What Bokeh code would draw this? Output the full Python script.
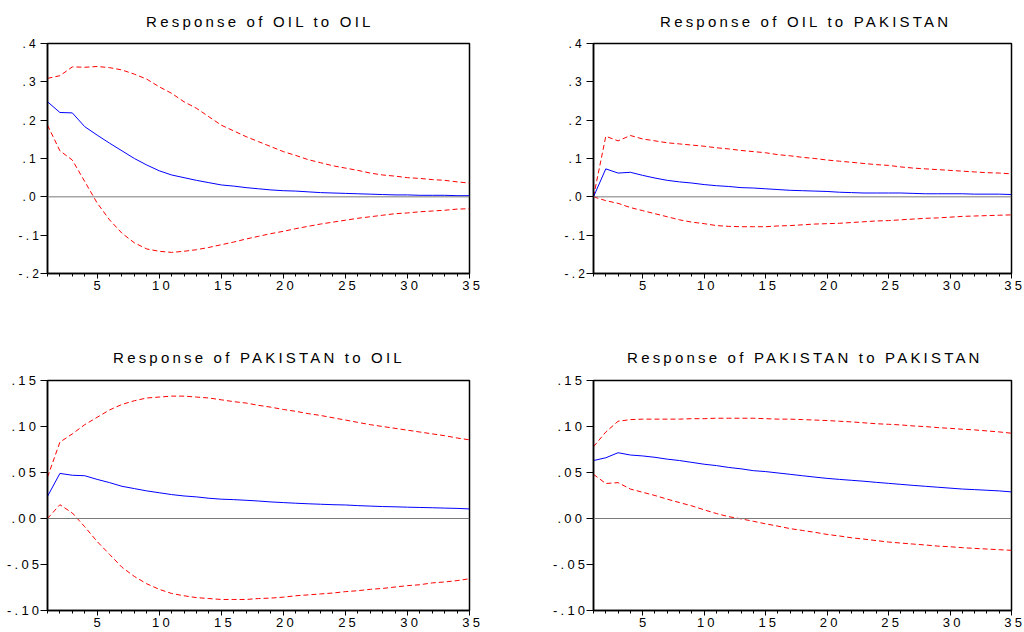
from bokeh.plotting import figure
from bokeh.models import (Range1d, FixedTicker, CustomJSTickFormatter, Span, ColumnDataSource,
                          InlineStyleSheet)
from bokeh.layouts import row, column
from bokeh.embed import file_html
from bokeh.resources import INLINE

periods = list(range(1, 36))

titles = ["Response of OIL to OIL", "Response of OIL to PAKISTAN",
          "Response of PAKISTAN to OIL", "Response of PAKISTAN to PAKISTAN"]

oil_oil_resp = [0.248, 0.220, 0.219, 0.183, 0.161, 0.140, 0.120, 0.100, 0.083, 0.068,
                0.057, 0.050, 0.043, 0.037, 0.031, 0.028, 0.024, 0.021, 0.018, 0.016,
                0.015, 0.013, 0.011, 0.010, 0.009, 0.008, 0.007, 0.006, 0.005, 0.005,
                0.004, 0.004, 0.004, 0.003, 0.003]
oil_oil_upper = [0.309, 0.316, 0.339, 0.338, 0.340, 0.337, 0.331, 0.320, 0.307, 0.287,
                 0.270, 0.248, 0.231, 0.209, 0.187, 0.172, 0.157, 0.144, 0.131, 0.118,
                 0.108, 0.097, 0.089, 0.081, 0.075, 0.069, 0.062, 0.057, 0.054, 0.050,
                 0.048, 0.045, 0.043, 0.039, 0.036]
oil_oil_lower = [0.187, 0.120, 0.096, 0.040, -0.016, -0.060, -0.095, -0.120, -0.136, -0.142,
                 -0.145, -0.142, -0.138, -0.132, -0.125, -0.118, -0.110, -0.103, -0.096, -0.090,
                 -0.083, -0.077, -0.071, -0.066, -0.061, -0.056, -0.052, -0.048, -0.044, -0.042,
                 -0.039, -0.037, -0.035, -0.032, -0.031]

oil_pak_resp = [0.0, 0.073, 0.062, 0.064, 0.056, 0.049, 0.043, 0.039, 0.036, 0.032,
                0.029, 0.027, 0.024, 0.023, 0.021, 0.019, 0.017, 0.016, 0.015, 0.014,
                0.012, 0.011, 0.010, 0.010, 0.010, 0.010, 0.009, 0.008, 0.008, 0.008,
                0.008, 0.007, 0.007, 0.007, 0.006]
oil_pak_upper = [0.0, 0.158, 0.146, 0.160, 0.151, 0.146, 0.141, 0.138, 0.135, 0.132,
                 0.128, 0.125, 0.121, 0.118, 0.115, 0.110, 0.107, 0.103, 0.100, 0.096,
                 0.093, 0.090, 0.087, 0.084, 0.082, 0.078, 0.075, 0.073, 0.071, 0.069,
                 0.067, 0.065, 0.063, 0.062, 0.060]
oil_pak_lower = [0.0, -0.010, -0.017, -0.028, -0.036, -0.044, -0.052, -0.060, -0.066, -0.070,
                 -0.075, -0.077, -0.078, -0.078, -0.078, -0.076, -0.075, -0.073, -0.071, -0.070,
                 -0.069, -0.067, -0.065, -0.063, -0.062, -0.060, -0.058, -0.056, -0.055, -0.053,
                 -0.051, -0.050, -0.049, -0.048, -0.047]

pak_oil_resp = [0.024, 0.049, 0.047, 0.0465, 0.0425, 0.039, 0.035, 0.0325, 0.030, 0.028,
                0.026, 0.0245, 0.0235, 0.022, 0.021, 0.0205, 0.0198, 0.019, 0.018, 0.0173,
                0.0166, 0.016, 0.0155, 0.015, 0.0147, 0.014, 0.0135, 0.013, 0.0127, 0.0123,
                0.012, 0.0117, 0.0113, 0.011, 0.0104]
pak_oil_upper = [0.045, 0.083, 0.092, 0.102, 0.110, 0.118, 0.124, 0.128, 0.131, 0.132,
                 0.133, 0.133, 0.132, 0.131, 0.129, 0.127, 0.1255, 0.123, 0.121, 0.1185,
                 0.1165, 0.114, 0.112, 0.1095, 0.107, 0.1045, 0.102, 0.100, 0.098, 0.096,
                 0.094, 0.092, 0.090, 0.0875, 0.0855]
pak_oil_lower = [0.0, 0.015, 0.006, -0.009, -0.025, -0.039, -0.053, -0.063, -0.071, -0.077,
                 -0.0815, -0.084, -0.086, -0.087, -0.088, -0.088, -0.088, -0.087, -0.0865, -0.0855,
                 -0.084, -0.083, -0.082, -0.081, -0.0795, -0.0785, -0.077, -0.076, -0.0745, -0.073,
                 -0.072, -0.070, -0.069, -0.0675, -0.0655]

pak_pak_resp = [0.063, 0.066, 0.0715, 0.069, 0.068, 0.0665, 0.0645, 0.063, 0.061, 0.059,
                0.0575, 0.0555, 0.054, 0.052, 0.051, 0.0495, 0.048, 0.0465, 0.045, 0.0436,
                0.0425, 0.0415, 0.0405, 0.0393, 0.0382, 0.0371, 0.036, 0.035, 0.034, 0.033,
                0.032, 0.0314, 0.0307, 0.030, 0.0289]
pak_pak_upper = [0.078, 0.094, 0.1057, 0.1075, 0.108, 0.108, 0.108, 0.108, 0.1085, 0.1085,
                 0.109, 0.109, 0.109, 0.109, 0.1085, 0.108, 0.108, 0.1075, 0.107, 0.1065,
                 0.1057, 0.105, 0.104, 0.103, 0.1024, 0.1017, 0.1006, 0.0999, 0.0988, 0.098,
                 0.097, 0.0963, 0.0952, 0.0941, 0.0927]
pak_pak_lower = [0.048, 0.038, 0.039, 0.032, 0.0285, 0.025, 0.021, 0.0173, 0.0137, 0.0094,
                 0.0054, 0.002, -0.0004, -0.003, -0.0058, -0.0083, -0.011, -0.013, -0.015, -0.0173,
                 -0.019, -0.021, -0.0224, -0.024, -0.0256, -0.0267, -0.0278, -0.0288, -0.030, -0.0307,
                 -0.0317, -0.0325, -0.0332, -0.0339, -0.0346]

top_yticks = [-0.2, -0.1, 0.0, 0.1, 0.2, 0.3, 0.4]
bottom_yticks = [-0.10, -0.05, 0.00, 0.05, 0.10, 0.15]
x_major = [5, 10, 15, 20, 25, 30, 35]

FONT = "Liberation Sans"
SPACING = 3.2
TITLE_PX = 15
# Arial / Liberation Sans advance widths (per 1000 em) for centring the spaced titles
_ADV = {" ": 278, "R": 722, "e": 556, "s": 500, "p": 556, "o": 556, "n": 556, "f": 278,
        "O": 778, "I": 278, "L": 556, "t": 278, "P": 667, "A": 667, "K": 667, "S": 667,
        "T": 611, "N": 722}


def title_width(t):
    return sum(_ADV.get(c, 556) for c in t) / 1000 * TITLE_PX + (len(t) - 1) * SPACING


def make_panel(title, resp, upper, lower, yticks, decimals, ylabel_px, ystandoff,
               valign, tstandoff, tdx, w, h, bl, br, bt, bb):
    p = figure(width=w, height=h, x_range=Range1d(periods[0], periods[-1]),
               y_range=Range1d(yticks[0], yticks[-1]),
               output_backend="svg", toolbar_location=None,
               min_border_left=bl, min_border_right=br,
               min_border_top=bt, min_border_bottom=bb, title=title,
               stylesheets=[InlineStyleSheet(css=":host { letter-spacing: %spx; }" % SPACING)])
    frame_w = w - bl - br
    p.title.align = "left"
    p.title.offset = (frame_w - title_width(title)) / 2 + tdx
    p.title.vertical_align = valign
    p.title.standoff = tstandoff
    p.title.text_font = FONT
    p.title.text_font_size = "%dpx" % TITLE_PX
    p.title.text_font_style = "normal"
    p.title.text_color = "#000000"
    p.background_fill_color = "white"
    p.border_fill_color = "white"
    p.outline_line_color = "black"
    p.outline_line_width = 1.5
    p.xgrid.visible = False
    p.ygrid.visible = False

    src = ColumnDataSource(dict(x=periods, resp=resp, upper=upper, lower=lower))
    p.add_layout(Span(location=0, dimension="width", line_color="#7a7a7a", line_width=1))
    p.line("x", "upper", source=src, line_color="#ff0000", line_width=1, line_dash="5 3")
    p.line("x", "lower", source=src, line_color="#ff0000", line_width=1, line_dash="5 3")
    p.line("x", "resp", source=src, line_color="#0000ff", line_width=1)

    xa = p.xaxis[0]
    xa.ticker = FixedTicker(ticks=x_major, minor_ticks=periods)
    xa.major_tick_out = 5
    xa.major_tick_in = 0
    xa.minor_tick_out = 3
    xa.minor_tick_in = 0
    xa.major_label_standoff = 2
    xa.major_label_text_font = FONT
    xa.major_label_text_font_size = "13px"
    xa.major_label_text_color = "black"
    xa.axis_line_color = "black"
    xa.axis_line_width = 1.5

    ya = p.yaxis[0]
    ya.ticker = FixedTicker(ticks=yticks, minor_ticks=[])
    ya.formatter = CustomJSTickFormatter(code="""
        let s = Math.abs(tick).toFixed(%d);
        if (s.startsWith('0')) s = s.slice(1);
        return (tick < -1e-9 ? '-' : '') + s;
    """ % decimals)
    ya.major_tick_out = 7
    ya.major_tick_in = 0
    ya.minor_tick_out = 0
    ya.minor_tick_in = 0
    ya.major_label_standoff = ystandoff
    ya.major_label_text_font = FONT
    ya.major_label_text_font_size = "%dpx" % ylabel_px
    ya.major_label_text_color = "black"
    ya.axis_line_color = "black"
    ya.axis_line_width = 1.5
    return p


f1 = make_panel(titles[0], oil_oil_resp, oil_oil_upper, oil_oil_lower, top_yticks, 1, 12, 8,
                "top", 24, 0, 512, 300, 47, 43, 42, 27)
f2 = make_panel(titles[1], oil_pak_resp, oil_pak_upper, oil_pak_lower, top_yticks, 1, 12, 8,
                "top", 24, 3, 512, 300, 81, 13, 42, 27)
f3 = make_panel(titles[2], pak_oil_resp, pak_oil_upper, pak_oil_lower, bottom_yticks, 2, 13, 11,
                "bottom", 29, 0, 512, 332, 47, 43, 80, 22)
f4 = make_panel(titles[3], pak_pak_resp, pak_pak_upper, pak_pak_lower, bottom_yticks, 2, 13, 11,
                "bottom", 29, 3, 512, 332, 81, 13, 80, 22)

layout = column(row(f1, f2, spacing=0), row(f3, f4, spacing=0), spacing=0)

open("out.html", "w").write(file_html(layout, INLINE))
